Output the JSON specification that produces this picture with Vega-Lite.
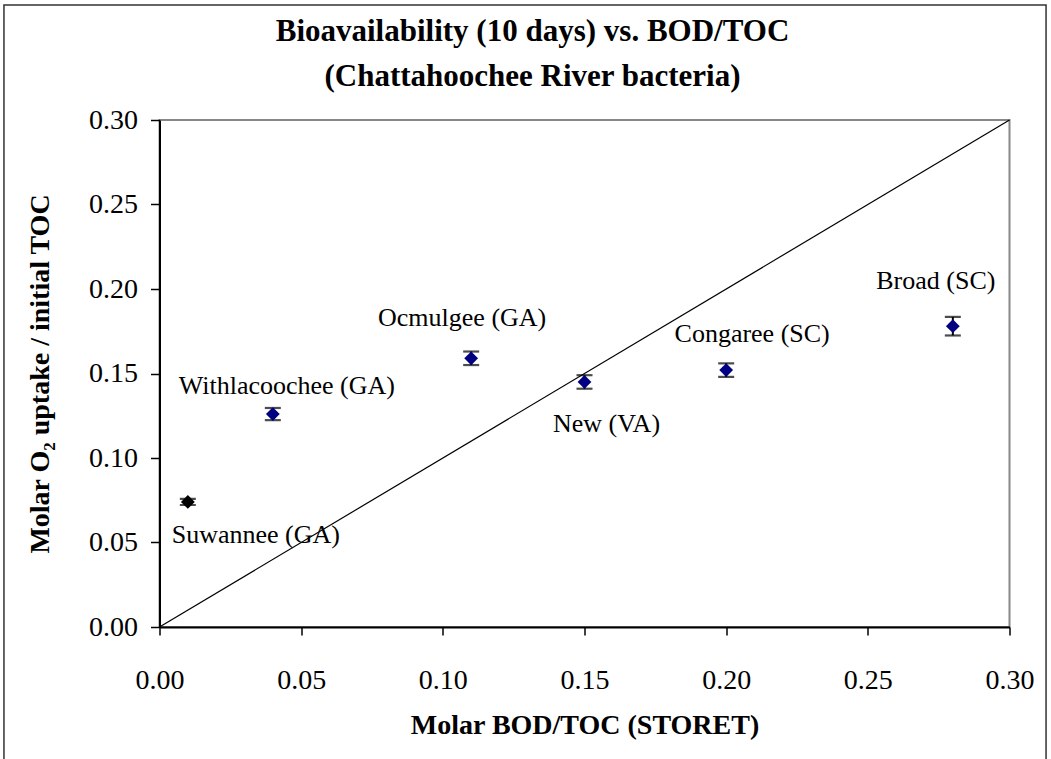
{
  "$schema": "https://vega.github.io/schema/vega-lite/v6.json",
  "width": 850,
  "height": 507,
  "autosize": {"type": "none"},
  "padding": {"left": 159.5, "top": 120, "right": 41.5, "bottom": 132},
  "background": "white",
  "config": {
    "font": "Liberation Serif",
    "view": {"stroke": "#888888", "strokeWidth": 2}
  },
  "title": {
    "text": ["Bioavailability (10 days) vs. BOD/TOC", "(Chattahoochee River bacteria)"],
    "font": "Liberation Serif",
    "fontSize": 31,
    "fontWeight": "bold",
    "color": "black",
    "anchor": "middle",
    "frame": "group",
    "dx": -52,
    "lineHeight": 45,
    "offset": -89
  },
  "datasets": {
    "sites": [
      {"site": "Suwannee (GA)", "bod": 0.01, "uptake": 0.074, "lo": 0.0722, "hi": 0.0758},
      {"site": "Withlacoochee (GA)", "bod": 0.04, "uptake": 0.126, "lo": 0.1224, "hi": 0.1296},
      {"site": "Ocmulgee (GA)", "bod": 0.11, "uptake": 0.159, "lo": 0.155, "hi": 0.163},
      {"site": "New (VA)", "bod": 0.15, "uptake": 0.145, "lo": 0.141, "hi": 0.149},
      {"site": "Congaree (SC)", "bod": 0.2, "uptake": 0.152, "lo": 0.148, "hi": 0.156},
      {"site": "Broad (SC)", "bod": 0.28, "uptake": 0.178, "lo": 0.1725, "hi": 0.1835}
    ],
    "oneToOne": [
      {"bod": 0, "uptake": 0},
      {"bod": 0.3, "uptake": 0.3}
    ]
  },
  "layer": [
    {
      "data": {"values": [{}]},
      "mark": {"type": "rect", "fill": null, "stroke": "#333333", "strokeWidth": 1.5, "clip": false},
      "encoding": {
        "x": {"datum": -0.0549, "type": "quantitative", "scale": {"domain": [0, 0.3], "nice": false}},
        "x2": {"datum": 0.3129},
        "y": {"datum": -0.095, "type": "quantitative", "scale": {"domain": [0, 0.3], "nice": false}},
        "y2": {"datum": 0.368}
      }
    },
    {
      "data": {"name": "oneToOne"},
      "mark": {"type": "line", "color": "black", "strokeWidth": 1.2},
      "encoding": {
        "x": {
          "field": "bod",
          "type": "quantitative",
          "scale": {"domain": [0, 0.3], "nice": false},
          "axis": {
            "title": "Molar BOD/TOC (STORET)",
            "values": [0, 0.05, 0.1, 0.15, 0.2, 0.25, 0.3],
            "format": ".2f",
            "grid": false,
            "domainColor": "black",
            "domainWidth": 2,
            "tickColor": "black",
            "tickWidth": 1.5,
            "tickSize": 8,
            "labelFont": "Liberation Serif",
            "labelFontSize": 28,
            "labelColor": "black",
            "labelPadding": 31,
            "labelFlush": false,
            "titleFont": "Liberation Serif",
            "titleFontSize": 28,
            "titleFontWeight": "bold",
            "titleColor": "black",
            "titlePadding": 17
          }
        },
        "y": {
          "field": "uptake",
          "type": "quantitative",
          "scale": {"domain": [0, 0.3], "nice": false},
          "axis": {
            "title": "Molar O₂ uptake / initial TOC",
            "values": [0, 0.05, 0.1, 0.15, 0.2, 0.25, 0.3],
            "format": ".2f",
            "grid": false,
            "domainColor": "black",
            "domainWidth": 2,
            "tickColor": "black",
            "tickWidth": 1.5,
            "tickSize": 9,
            "labelFont": "Liberation Serif",
            "labelFontSize": 28,
            "labelColor": "black",
            "labelPadding": 13,
            "labelFlush": false,
            "titleFont": "Liberation Serif",
            "titleFontSize": 28,
            "titleFontWeight": "bold",
            "titleColor": "black",
            "titlePadding": 34
          }
        }
      }
    },
    {
      "mark": {"type": "text", "fontSize": 24, "font": "Liberation Serif", "color": "black"},
      "encoding": {
        "x": {"datum": 0.2367, "type": "quantitative"},
        "y": {"datum": 0.2775, "type": "quantitative"},
        "text": {"value": "1:1 line"}
      }
    },
    {
      "data": {"name": "sites"},
      "layer": [
        {
          "mark": {"type": "rule", "color": "black", "strokeWidth": 2},
          "encoding": {
            "x": {"field": "bod", "type": "quantitative"},
            "y": {"field": "lo", "type": "quantitative"},
            "y2": {"field": "hi"}
          }
        },
        {
          "mark": {"type": "tick", "orient": "horizontal", "color": "black", "size": 16, "thickness": 2.2},
          "encoding": {
            "x": {"field": "bod", "type": "quantitative"},
            "y": {"field": "lo", "type": "quantitative"}
          }
        },
        {
          "mark": {"type": "tick", "orient": "horizontal", "color": "black", "size": 16, "thickness": 2.2},
          "encoding": {
            "x": {"field": "bod", "type": "quantitative"},
            "y": {"field": "hi", "type": "quantitative"}
          }
        },
        {
          "mark": {"type": "point", "shape": "diamond", "filled": true, "size": 190, "opacity": 1},
          "encoding": {
            "x": {"field": "bod", "type": "quantitative"},
            "y": {"field": "uptake", "type": "quantitative"},
            "color": {
              "condition": {"test": "datum.site === 'Suwannee (GA)'", "value": "black"},
              "value": "#000080"
            }
          }
        },
        {
          "transform": [{"filter": "datum.site === 'Suwannee (GA)'"}],
          "mark": {"type": "text", "fontSize": 26, "font": "Liberation Serif", "color": "black", "dx": 68, "dy": 33},
          "encoding": {
            "x": {"field": "bod", "type": "quantitative"},
            "y": {"field": "uptake", "type": "quantitative"},
            "text": {"field": "site"}
          }
        },
        {
          "transform": [{"filter": "datum.site === 'Withlacoochee (GA)'"}],
          "mark": {"type": "text", "fontSize": 26, "font": "Liberation Serif", "color": "black", "dx": 14, "dy": -28},
          "encoding": {
            "x": {"field": "bod", "type": "quantitative"},
            "y": {"field": "uptake", "type": "quantitative"},
            "text": {"field": "site"}
          }
        },
        {
          "transform": [{"filter": "datum.site === 'Ocmulgee (GA)'"}],
          "mark": {"type": "text", "fontSize": 26, "font": "Liberation Serif", "color": "black", "dx": -9, "dy": -40},
          "encoding": {
            "x": {"field": "bod", "type": "quantitative"},
            "y": {"field": "uptake", "type": "quantitative"},
            "text": {"field": "site"}
          }
        },
        {
          "transform": [{"filter": "datum.site === 'New (VA)'"}],
          "mark": {"type": "text", "fontSize": 26, "font": "Liberation Serif", "color": "black", "dx": 22, "dy": 42},
          "encoding": {
            "x": {"field": "bod", "type": "quantitative"},
            "y": {"field": "uptake", "type": "quantitative"},
            "text": {"field": "site"}
          }
        },
        {
          "transform": [{"filter": "datum.site === 'Congaree (SC)'"}],
          "mark": {"type": "text", "fontSize": 26, "font": "Liberation Serif", "color": "black", "dx": 26, "dy": -36},
          "encoding": {
            "x": {"field": "bod", "type": "quantitative"},
            "y": {"field": "uptake", "type": "quantitative"},
            "text": {"field": "site"}
          }
        },
        {
          "transform": [{"filter": "datum.site === 'Broad (SC)'"}],
          "mark": {"type": "text", "fontSize": 26, "font": "Liberation Serif", "color": "black", "dx": -17, "dy": -45},
          "encoding": {
            "x": {"field": "bod", "type": "quantitative"},
            "y": {"field": "uptake", "type": "quantitative"},
            "text": {"field": "site"}
          }
        }
      ]
    }
  ]
}
